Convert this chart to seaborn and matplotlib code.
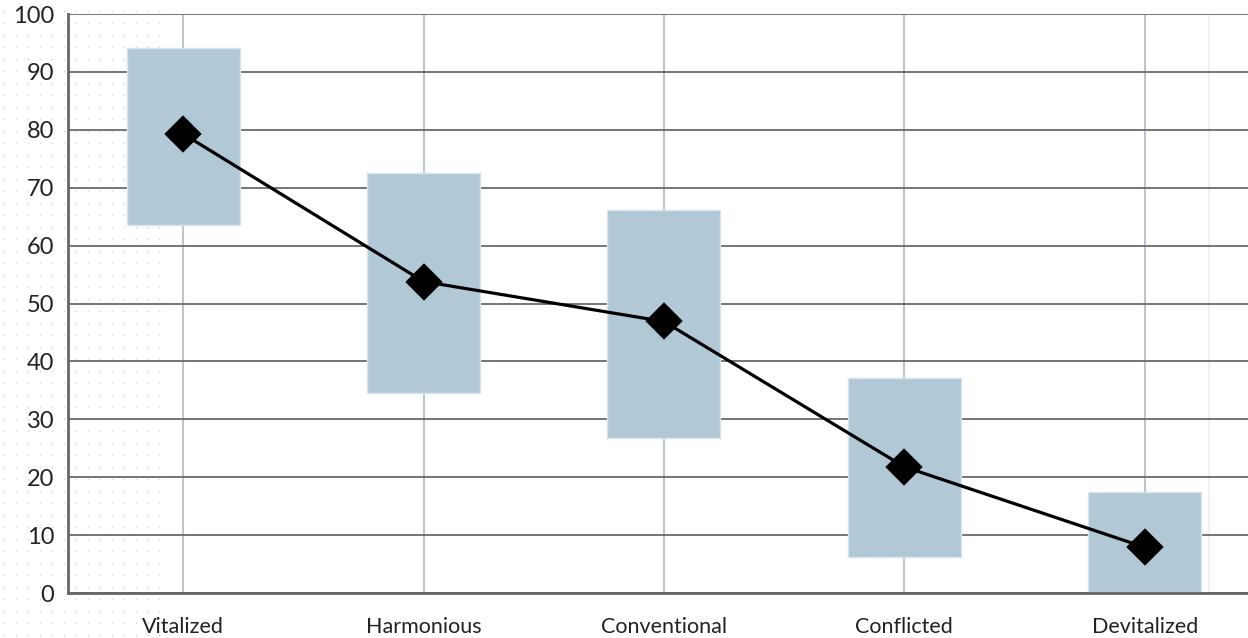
import matplotlib
matplotlib.use("Agg")
import matplotlib.pyplot as plt
import numpy as np
import pandas as pd
import seaborn as sns

# data
categories = ["Vitalized", "Harmonious", "Conventional", "Conflicted", "Devitalized"]
box_low = [63.6, 34.6, 26.7, 6.2, 0.0]
box_high = [94.2, 72.5, 66.1, 37.1, 17.4]
means = [79.3, 53.8, 46.9, 21.8, 7.9]

df = pd.DataFrame({"type": categories, "low": box_low, "high": box_high, "mean": means})

sns.set_theme(style="white")
plt.rcParams["font.family"] = ["Lato", "DejaVu Sans"]

fig = plt.figure(figsize=(12.48, 6.38), dpi=100)

# dotted decoration on the left side
bg = fig.add_axes([0, 0, 1, 1], zorder=-1)
dx, dy = np.meshgrid(np.arange(0.003, 0.137, 0.0096), np.arange(0.005, 1.0, 0.0188))
bg.scatter(dx.ravel(), dy.ravel(), s=1.6, color="#d9d9d9", linewidths=0)
bg.set_xlim(0, 1)
bg.set_ylim(0, 1)
bg.axis("off")

ax = fig.add_axes([0.0545, 0.0705, 0.9455, 0.9075])
ax.patch.set_alpha(0)

# vertical guides at categories
for i in range(len(categories)):
    ax.axvline(i, color="#a7bccb", lw=1.2, zorder=0)
ax.axvline(4.266, color="#ececec", lw=1.2, zorder=0)

ax.set_yticks(range(0, 101, 10))
ax.yaxis.grid(True, color="#6a6a6a", lw=1.3, zorder=0)
ax.set_axisbelow(True)

ax.bar(np.arange(len(categories)), df["high"] - df["low"], bottom=df["low"],
       width=0.47, color="#b1c9d6", edgecolor="#d8e4eb", lw=1, zorder=2)

sns.pointplot(data=df, x="type", y="mean", ax=ax, color="black", markers="D",
              linestyles="-", markersize=17, linewidth=2.3, zorder=3)

ax.set_xlim(-0.479, 4.43)
ax.set_ylim(0, 100)
ax.set_xlabel("")
ax.set_ylabel("")
ax.set_xticks([0.475, 1.42], minor=True)

for side in ["top", "right"]:
    ax.spines[side].set_visible(False)
for side in ["left", "bottom"]:
    ax.spines[side].set_color("#666666")
    ax.spines[side].set_linewidth(2)

ax.tick_params(axis="y", labelsize=17, colors="#222222", length=6, color="#cccccc", pad=4)
ax.tick_params(axis="x", which="major", labelsize=15.5, colors="#222222", length=0, pad=17)
ax.tick_params(axis="x", which="minor", length=8, color="#dddddd", width=1)

fig.savefig("out.png", dpi=100)
